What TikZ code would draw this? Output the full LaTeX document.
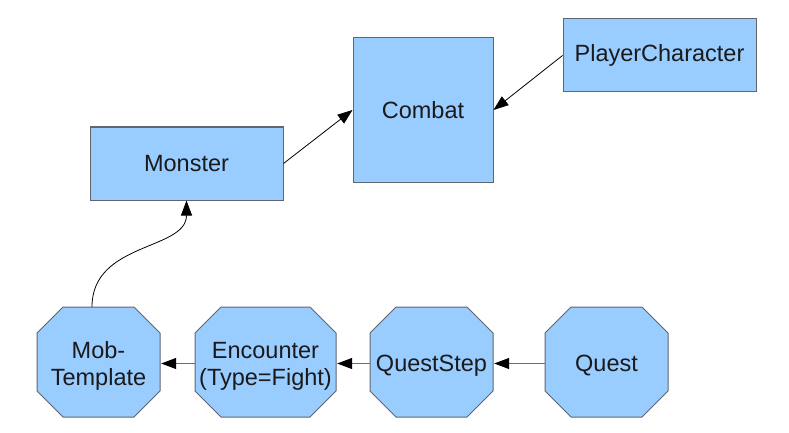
\documentclass[tikz,border=0pt]{standalone}
\usepackage{fontspec}
\setmainfont{Liberation Sans}
\usetikzlibrary{arrows.meta}
\definecolor{boxfill}{HTML}{99CCFF}
\definecolor{boxline}{HTML}{5F6670}
\definecolor{txt}{HTML}{1A1A1A}
\newcommand\octnode[5]{%
  \filldraw[octshape] (#2-#4/2+26,#3-55) -- (#2+#4/2-26,#3-55) -- (#2+#4/2,#3-29) -- (#2+#4/2,#3+29) -- (#2+#4/2-26,#3+55) -- (#2-#4/2+26,#3+55) -- (#2-#4/2,#3+29) -- (#2-#4/2,#3-29) -- cycle;
  \node[otext, minimum width=#4pt] (#1) at (#2,#3) {#5};}
\begin{document}
\begin{tikzpicture}[x=1pt,y=-1pt,
  every node/.style={font=\fontsize{23.5}{27}\selectfont, text=txt},
  rbox/.style={draw=boxline, line width=1pt, fill=boxfill, rectangle, inner sep=0pt, align=center},
  octshape/.style={draw=boxline, line width=1pt, fill=boxfill},
  otext/.style={inner sep=0pt, minimum height=110pt, align=center, text depth=0pt, yshift=-1.5pt},
  conn/.style={line width=0.8pt, -{Triangle[length=15pt,width=11pt]}},
  hconn/.style={draw=gray!85!black, line width=1.1pt, -{Triangle[length=15pt,width=11pt,color=black]}, shorten >=1pt}
]
\useasboundingbox (0,0) rectangle (789,433);
\node[rbox, minimum width=193pt, minimum height=73pt] (monster) at (186.5,163.5) {Monster};
\node[rbox, minimum width=140pt, minimum height=144pt] (combat) at (423,110) {Combat};
\node[rbox, minimum width=193pt, minimum height=73pt] (pc) at (659.5,55.5) {PlayerCharacter};
\octnode{mob}{98.5}{362}{123}{Mob-\\Template}
\octnode{enc}{265.5}{362}{141}{Encounter\\(Type=Fight)}
\octnode{qs}{431.5}{362}{123}{QuestStep}
\octnode{quest}{606.5}{362}{123}{Quest}
\draw[conn] (monster.east) -- (combat.west);
\draw[conn] (pc.west) -- (combat.east);
\draw[conn] ([xshift=-6.5pt,yshift=1.5pt]mob.north) .. controls +(0,-65) and +(0,50) .. (monster.south);
\draw[hconn] (enc.west) -- (mob.east);
\draw[hconn] (qs.west) -- (enc.east);
\draw[hconn] (quest.west) -- (qs.east);
\end{tikzpicture}
\end{document}
